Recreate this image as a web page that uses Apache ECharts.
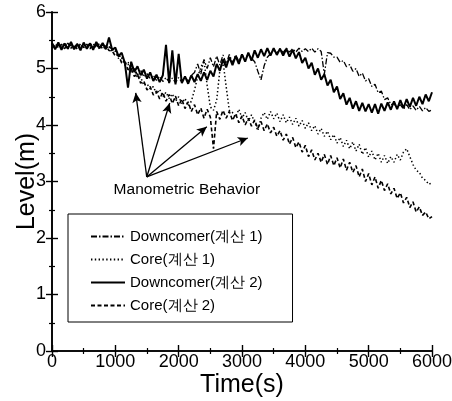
<!DOCTYPE html>
<html><head><meta charset="utf-8">
<script src="https://cdn.jsdelivr.net/npm/echarts@6/dist/echarts.min.js"></script>
<style>html,body{margin:0;padding:0;background:#fff}#c{width:452px;height:401px}</style>
</head><body><div id="c"></div>
<script>
const time = [0,50,100,150,200,250,300,350,400,450,500,550,600,650,700,750,800,850,900,950,
1000,1050,1100,1150,1200,1250,1300,1350,1400,1450,1500,1550,1600,1650,1700,1750,1800,1850,1900,1950,
2000,2050,2100,2150,2200,2250,2300,2350,2400,2450,2500,2550,2600,2650,2700,2750,2800,2850,2900,2950,
3000,3050,3100,3150,3200,3250,3300,3350,3400,3450,3500,3550,3600,3650,3700,3750,3800,3850,3900,3950,
4000,4050,4100,4150,4200,4250,4300,4350,4400,4450,4500,4550,4600,4650,4700,4750,4800,4850,4900,4950,
5000,5050,5100,5150,5200,5250,5300,5350,5400,5450,5500,5550,5600,5650,5700,5750,5800,5850,5900,5950,6000];

const downcomer1 = [5.43,5.36,5.44,5.37,5.45,5.35,5.42,5.38,5.44,5.36,5.43,5.37,5.45,5.36,5.42,5.38,5.44,5.35,5.40,5.33,
5.34,5.22,5.22,5.08,5.12,4.99,5.01,4.88,4.98,4.85,4.91,4.82,4.88,4.79,4.86,4.77,4.84,4.76,4.83,4.75,
4.84,4.76,4.86,4.77,4.88,4.93,5.08,4.90,5.16,5.00,5.19,5.03,5.22,5.06,5.24,5.08,5.25,5.10,5.24,5.13,
5.25,5.15,5.27,5.18,5.12,4.95,4.80,5.05,5.20,5.26,5.33,5.27,5.35,5.28,5.36,5.29,5.35,5.29,5.36,5.30,
5.35,5.30,5.36,5.29,5.35,5.30,4.90,5.28,5.27,5.20,5.20,5.11,5.14,5.03,5.07,4.95,5.00,4.86,4.92,4.78,
4.82,4.68,4.72,4.57,4.60,4.45,4.48,4.36,4.38,4.30,4.36,4.28,4.36,4.27,4.34,4.26,4.33,4.25,4.31,4.24,4.27];

const core1 = [5.44,5.37,5.43,5.35,5.45,5.38,5.42,5.34,5.44,5.37,5.43,5.36,5.45,5.38,5.42,5.35,5.43,5.36,5.38,5.31,
5.30,5.18,5.19,5.06,5.08,4.94,4.98,4.84,4.85,4.70,4.73,4.64,4.68,4.55,4.63,4.50,4.58,4.47,4.55,4.42,
4.50,4.38,4.47,4.34,4.42,4.62,4.85,5.02,5.14,4.70,4.32,4.26,4.44,4.96,5.12,4.68,4.26,4.22,4.14,4.28,
4.12,4.22,4.07,4.18,4.05,3.90,4.12,4.22,4.10,4.24,4.11,4.21,4.06,4.18,4.04,4.14,4.01,4.12,3.98,4.08,
3.94,4.04,3.90,3.99,3.84,3.94,3.80,3.89,3.74,3.83,3.68,3.78,3.62,3.73,3.58,3.70,3.54,3.66,3.48,3.60,
3.43,3.54,3.38,3.50,3.34,3.46,3.32,3.44,3.34,3.48,3.38,3.52,3.58,3.44,3.30,3.20,3.16,3.06,3.02,2.95,2.98];

const downcomer2 = [5.45,5.34,5.46,5.33,5.44,5.35,5.47,5.34,5.43,5.32,5.46,5.35,5.44,5.33,5.47,5.36,5.45,5.34,5.55,5.33,
5.37,5.22,5.28,5.10,4.66,5.12,4.94,5.04,4.88,4.98,4.82,4.93,4.78,4.89,4.76,4.88,5.42,4.74,5.32,4.72,
5.26,4.74,4.86,4.73,4.88,4.76,4.90,4.78,4.93,4.80,4.96,4.86,5.08,4.96,5.16,5.02,5.20,5.06,5.22,5.08,
5.25,5.12,5.28,5.14,5.32,5.19,5.34,5.22,5.36,5.23,5.36,5.24,5.35,5.23,5.35,5.21,5.33,5.18,5.29,5.10,
5.19,5.00,5.10,4.89,5.00,4.80,4.90,4.70,4.80,4.58,4.68,4.46,4.56,4.36,4.48,4.29,4.42,4.25,4.39,4.24,
4.37,4.22,4.37,4.20,4.38,4.25,4.40,4.27,4.42,4.28,4.44,4.30,4.46,4.32,4.48,4.34,4.50,4.37,4.54,4.42,4.58];

const core2 = [5.36,5.44,5.37,5.43,5.35,5.45,5.36,5.42,5.34,5.44,5.37,5.43,5.35,5.44,5.36,5.45,5.34,5.40,5.32,5.31,
5.22,5.24,5.10,5.12,4.98,5.00,4.86,4.90,4.74,4.78,4.62,4.68,4.53,4.60,4.46,4.58,4.42,4.54,4.38,4.51,
4.34,4.46,4.29,4.41,4.24,4.36,4.18,4.30,4.12,4.28,4.14,3.58,4.24,4.10,4.26,4.12,4.24,4.08,4.20,4.04,
4.16,4.00,4.12,3.98,4.09,3.94,4.06,3.90,4.02,3.86,3.96,3.80,3.90,3.73,3.84,3.66,3.78,3.60,3.70,3.52,
3.64,3.44,3.56,3.38,3.50,3.34,3.48,3.30,3.46,3.28,3.42,3.24,3.40,3.20,3.34,3.16,3.28,3.08,3.22,3.00,
3.14,2.94,3.08,2.88,3.02,2.84,2.96,2.78,2.88,2.70,2.80,2.62,2.72,2.54,2.64,2.46,2.55,2.40,2.46,2.34,2.38];

const seriesNames = ['Downcomer(계산 1)','Core(계산 1)','Downcomer(계산 2)','Core(계산 2)'];
const xTicks = [0,1000,2000,3000,4000,5000,6000];
const yTicks = [0,1,2,3,4,5,6];
// annotation arrows: origin and targets in data units
const arrowOrigin = [1496, 3.08];
const arrowTargets = [[1322, 4.57],[1859, 4.39],[2444, 3.97],[3092, 3.77]];
const annotationText = 'Manometric Behavior';
const annotationPos = [2129, 2.86];

const FONT = 'Liberation Sans, Arial, sans-serif';
const pair = arr => time.map((t,i)=>[t,arr[i]]);

const chart = echarts.init(document.getElementById('c'));
const styles = [
  {type:[6,2,1.5,2], width:1.3},
  {type:[1.4,2.4], width:1.5},
  {type:'solid', width:2},
  {type:[4,2.5], width:1.6}
];
const datas = [downcomer1, core1, downcomer2, core2];

const series = seriesNames.map((n,i)=>({
  name:n, type:'line', data:pair(datas[i]), showSymbol:false, symbol:'none',
  lineStyle:{color:'#000', width:styles[i].width, type:styles[i].type},
  itemStyle:{color:'#000'}, animation:false, z:3
}));
series.push({
  name:'annot', type:'line', data:[], showSymbol:false, animation:false,
  markLine:{
    silent:true, symbol:['none','arrow'], symbolSize:[7,10],
    lineStyle:{color:'#000', width:1.3, type:'solid'},
    label:{show:false},
    data: arrowTargets.map(t=>[{coord:arrowOrigin},{coord:t}])
  },
  markPoint:{
    silent:true, symbol:'circle', symbolSize:0,
    label:{show:true, formatter:annotationText, color:'#000', fontFamily:FONT, fontSize:15.5, position:'inside'},
    data:[{coord:annotationPos}]
  }
});

const axisCommon = {
  axisLine:{show:true, lineStyle:{color:'#000', width:1.6}},
  axisTick:{show:true, inside:true, length:6, lineStyle:{color:'#000', width:1.4}},
  minorTick:{show:true, splitNumber:2, length:3, lineStyle:{color:'#000', width:1.2}},
  splitLine:{show:false}
};

chart.setOption({
  animation:false,
  backgroundColor:'#fff',
  grid:{left:52, right:20, top:12, bottom:50, containLabel:false, outerBoundsMode:'none'},
  legend:{
    data:seriesNames, orient:'vertical', left:68, top:214,
    padding:[15,30,9,22], itemGap:8, itemWidth:34, itemHeight:14,
    borderColor:'#000', borderWidth:1, backgroundColor:'#fff',
    itemStyle:{opacity:0},
    textStyle:{color:'#000', fontFamily:FONT, fontSize:15},
    selectedMode:false
  },
  xAxis:[
    Object.assign({type:'value', min:xTicks[0], max:xTicks[xTicks.length-1], interval:1000, position:'bottom',
      name:'Time(s)', nameLocation:'middle', nameGap:22, nameMoveOverlap:false,
      nameTextStyle:{color:'#000', fontFamily:FONT, fontSize:25},
      axisLabel:{color:'#000', fontFamily:FONT, fontSize:18, margin:2, formatter:v=>String(v)}}, axisCommon),
    Object.assign({type:'value', min:xTicks[0], max:xTicks[xTicks.length-1], interval:1000, position:'top',
      axisLabel:{show:false}}, axisCommon)
  ],
  yAxis:[
    Object.assign({type:'value', min:yTicks[0], max:yTicks[yTicks.length-1], interval:1, position:'left',
      name:'Level(m)', nameLocation:'middle', nameGap:12, nameRotate:90, nameMoveOverlap:false,
      nameTextStyle:{color:'#000', fontFamily:FONT, fontSize:25},
      axisLabel:{color:'#000', fontFamily:FONT, fontSize:18, margin:6, formatter:v=>String(v)}}, axisCommon),
    Object.assign({type:'value', min:yTicks[0], max:yTicks[yTicks.length-1], interval:1, position:'right',
      axisLabel:{show:false}}, axisCommon)
  ],
  series:series
});
</script></body></html>
